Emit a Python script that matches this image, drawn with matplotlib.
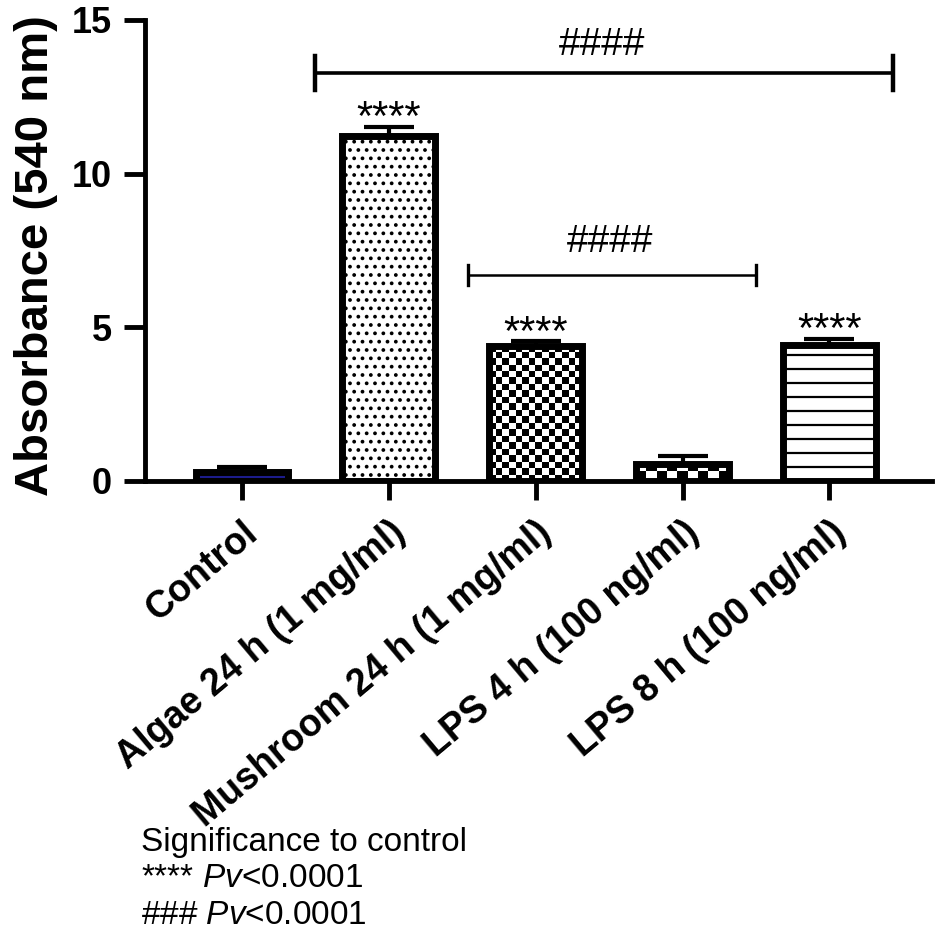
import numpy as np
import matplotlib
matplotlib.use("Agg")
import matplotlib.pyplot as plt
from matplotlib.transforms import ScaledTranslation

plt.rcParams['font.family'] = ['Liberation Sans', 'DejaVu Sans']
plt.rcParams['mathtext.fontset'] = 'custom'
plt.rcParams['mathtext.it'] = 'Liberation Sans:italic'
plt.rcParams['mathtext.rm'] = 'Liberation Sans'
plt.rcParams['hatch.linewidth'] = 1.5

groups = ["Control", "Algae 24 h (1 mg/ml)", "Mushroom 24 h (1 mg/ml)",
          "LPS 4 h (100 ng/ml)", "LPS 8 h (100 ng/ml)"]
means = [0.30, 11.21, 4.38, 0.55, 4.41]
sems = [0.15, 0.31, 0.16, 0.26, 0.21]
stars = ["", "****", "****", "", "****"]
fills = [None, "dots", "checker", "checker", "lines"]
# checker squares: count across the bar, height in data units
checker = {2: (14, 0.21), 3: (9, 0.33)}
line_step = 0.455

# brackets: x left, x right, height, end tick half size, label y, line width
brackets = [(0.50, 4.43, 13.28, 0.55, 13.86, 2.6),
            (1.54, 3.50, 6.70, 0.33, 7.45, 1.8)]

fig = plt.figure(figsize=(9.35, 9.3), dpi=100)
ax = fig.add_axes([0.155, 0.4828, 0.842, 0.4957])

x = np.arange(len(groups))
width = 0.63
colors = ["#1c1c8c", "white", "none", "none", "white"]
bars = ax.bar(x, means, width, color=colors, edgecolor="black", linewidth=5, zorder=3)

for i, b in enumerate(bars):
    f = fills[i]
    x0 = x[i] - width / 2
    if f == "checker":
        nx, dy = checker[i]
        ny = int(np.ceil(means[i] / dy))
        grid = (np.indices((ny, nx)).sum(axis=0) % 2).astype(float)
        im = ax.imshow(grid, cmap="gray", origin="lower", aspect="auto",
                       interpolation="nearest",
                       extent=(x0, x0 + width, 0, ny * dy), zorder=2.5)
        im.set_clip_path(b)
    elif f == "dots":
        b.set_hatch("..")
    elif f == "lines":
        ys = np.arange(line_step, means[i], line_step)
        ax.hlines(ys, x0, x0 + width, color="black", lw=1.6, zorder=3.05)

ax.errorbar(x, means, yerr=[np.zeros(len(sems)), sems], fmt="none",
            ecolor="black", elinewidth=3, capsize=18, capthick=3, zorder=2)

for i, s in enumerate(stars):
    if s:
        ax.text(x[i], means[i] + sems[i] - 0.1, s, ha="center", va="baseline",
                fontsize=30, zorder=4)

for x1, x2, yb, tick, ty, lw in brackets:
    ax.plot([x1, x2], [yb, yb], color="black", lw=lw, solid_capstyle="butt")
    ax.plot([x1, x1], [yb - tick, yb + tick], color="black", lw=lw + 0.6)
    ax.plot([x2, x2], [yb - tick, yb + tick], color="black", lw=lw + 0.6)
    ax.text((x1 + x2) / 2 - 0.01, ty, "####", ha="center", va="baseline", fontsize=28)

ax.set_xlim(-0.66, 4.70)
ax.set_ylim(0, 15)
ax.set_yticks([0, 5, 10, 15])
ax.set_xticks(x)
ax.set_xticklabels(groups, rotation=40, ha="right", va="top",
                   rotation_mode="anchor", fontsize=27, fontweight="bold")
for lab in ax.get_xticklabels():
    lab.set_transform(lab.get_transform() + ScaledTranslation(0.09, 0, fig.dpi_scale_trans))

for side in ["top", "right"]:
    ax.spines[side].set_visible(False)
for side in ["left", "bottom"]:
    ax.spines[side].set_linewidth(3.5)
ax.tick_params(axis="y", length=15, width=3.5, pad=9, labelsize=26)
ax.tick_params(axis="x", length=14, width=3.5, pad=10)
for lab in ax.get_yticklabels():
    lab.set_fontweight("bold")

ax.set_ylabel("Absorbance (540 nm)", fontsize=34, fontweight="bold")
ax.yaxis.set_label_coords(-0.11, 0.49)

fig.text(0.151, 0.0946, "Significance to control", fontsize=24, va="center")
fig.text(0.151, 0.0559, r"**** $\it{Pv}$<0.0001", fontsize=24, va="center")
fig.text(0.151, 0.0161, r"### $\it{Pv}$<0.0001", fontsize=24, va="center")

fig.savefig("out.png", dpi=100)
